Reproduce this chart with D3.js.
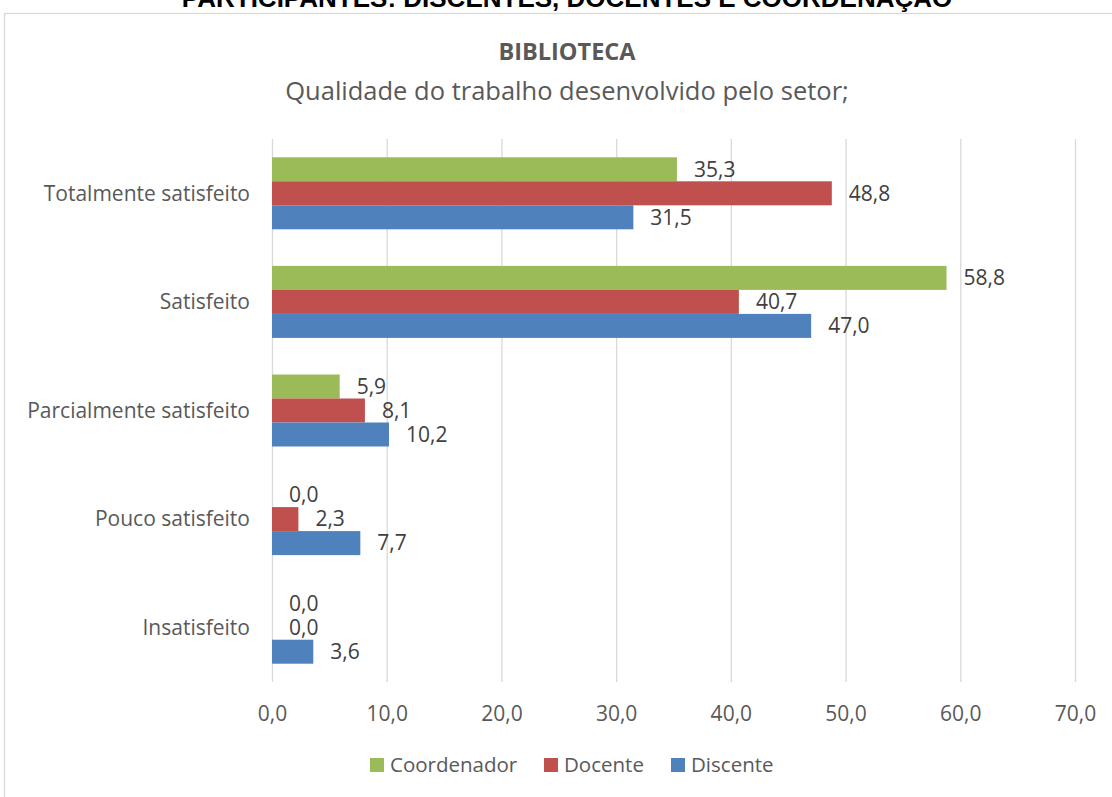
<!DOCTYPE html>
<html>
<head>
<meta charset="utf-8">
<script src="https://cdn.jsdelivr.net/npm/d3@7"></script>
<style>
  body { margin: 0; background: #fff; }
  svg { display: block; font-family: "Open Sans", sans-serif; }
  .grid line { stroke: #d9d9d9; stroke-width: 1.3; }
  .grid path { display: none; }
  .xaxis text { fill: #595959; font-size: 21px; font-family: "Open Sans", sans-serif; }
  .cat { fill: #595959; font-size: 21px; }
  .val { fill: #404040; font-size: 21px; }
  .legend text { fill: #595959; font-size: 20.5px; }
</style>
</head>
<body>
<script>
(function(){

//chart data
var categories = ["Totalmente satisfeito", "Satisfeito", "Parcialmente satisfeito", "Pouco satisfeito", "Insatisfeito"];
var seriesNames = ["Coordenador", "Docente", "Discente"];
var coordenador = [35.3, 58.8, 5.9, 0.0, 0.0];
var docente = [48.8, 40.7, 8.1, 2.3, 0.0];
var discente = [31.5, 47.0, 10.2, 7.7, 3.6];
var xTicks = [0, 10, 20, 30, 40, 50, 60, 70];
var colors = ["#9BBB59", "#C0504D", "#4F81BD"];

var seriesValues = [coordenador, docente, discente];

var width = 1112,
    height = 797;

var svg = d3.select("body")
    .append("svg")
    .attr("width", width)
    .attr("height", height);

//outer chart frame
svg.append("rect")
    .attr("x", 4.5)
    .attr("y", 13.5)
    .attr("width", width + 20)
    .attr("height", height + 20)
    .attr("fill", "#fff")
    .attr("stroke", "#d9d9d9")
    .attr("stroke-width", 1.3);

//page heading, cut off by the top edge
svg.append("text")
    .attr("x", 567)
    .attr("y", 7)
    .attr("text-anchor", "middle")
    .style("font-family", "'Liberation Sans', Arial, sans-serif")
    .style("font-weight", "bold")
    .style("font-size", "26px")
    .attr("fill", "#000")
    .text("PARTICIPANTES: DISCENTES, DOCENTES E COORDENAÇÃO");

//chart titles
svg.append("text")
    .attr("x", 567)
    .attr("y", 60)
    .attr("text-anchor", "middle")
    .style("font-weight", "bold")
    .style("font-size", "23.5px")
    .attr("fill", "#595959")
    .text("BIBLIOTECA");

svg.append("text")
    .attr("x", 567)
    .attr("y", 100)
    .attr("text-anchor", "middle")
    .style("font-size", "25.5px")
    .attr("fill", "#595959")
    .text("Qualidade do trabalho desenvolvido pelo setor;");

//scales
var x = d3.scaleLinear()
    .domain([0, 70])
    .range([272, 1075]);

var y = d3.scaleBand()
    .domain(categories)
    .range([139, 682])
    .paddingInner(0.337)
    .paddingOuter(0.1685);

var ySub = d3.scaleBand()
    .domain(seriesNames)
    .range([0, y.bandwidth()]);

//gridlines and tick labels
var xAxis = svg.append("g")
    .attr("class", "grid xaxis")
    .attr("transform", "translate(0,682)")
    .call(d3.axisBottom(x)
        .tickValues(xTicks)
        .tickSize(-(682 - 139))
        .tickPadding(24)
        .tickFormat(function(d){ return d.toFixed(1).replace(".", ","); }));

//category labels
svg.selectAll(".cat")
    .data(categories)
    .enter()
    .append("text")
    .attr("class", "cat")
    .attr("x", 250)
    .attr("y", function(d){ return y(d) + y.bandwidth() / 2; })
    .attr("dy", "0.35em")
    .attr("text-anchor", "end")
    .text(function(d){ return d; });

//bars and labels per series
var rows = [];
seriesNames.forEach(function(s, si){
    categories.forEach(function(c, ci){
        rows.push({series: s, si: si, cat: c, value: seriesValues[si][ci]});
    });
});

svg.selectAll(".bar")
    .data(rows)
    .enter()
    .append("rect")
    .attr("class", "bar")
    .attr("x", x(0))
    .attr("y", function(d){ return y(d.cat) + ySub(d.series); })
    .attr("width", function(d){ return x(d.value) - x(0); })
    .attr("height", ySub.bandwidth())
    .attr("fill", function(d){ return colors[d.si]; });

svg.selectAll(".val")
    .data(rows)
    .enter()
    .append("text")
    .attr("class", "val")
    .attr("x", function(d){ return x(d.value) + 17; })
    .attr("y", function(d){ return y(d.cat) + ySub(d.series) + ySub.bandwidth() / 2; })
    .attr("dy", "0.35em")
    .text(function(d){ return d.value.toFixed(1).replace(".", ","); });

//legend
var legendX = [370, 544, 671];
var legend = svg.append("g").attr("class", "legend");
seriesNames.forEach(function(s, i){
    legend.append("rect")
        .attr("x", legendX[i])
        .attr("y", 758)
        .attr("width", 14)
        .attr("height", 14)
        .attr("fill", colors[i]);
    legend.append("text")
        .attr("x", legendX[i] + 20)
        .attr("y", 765)
        .attr("dy", "0.35em")
        .text(s);
});

})();
</script>
</body>
</html>
